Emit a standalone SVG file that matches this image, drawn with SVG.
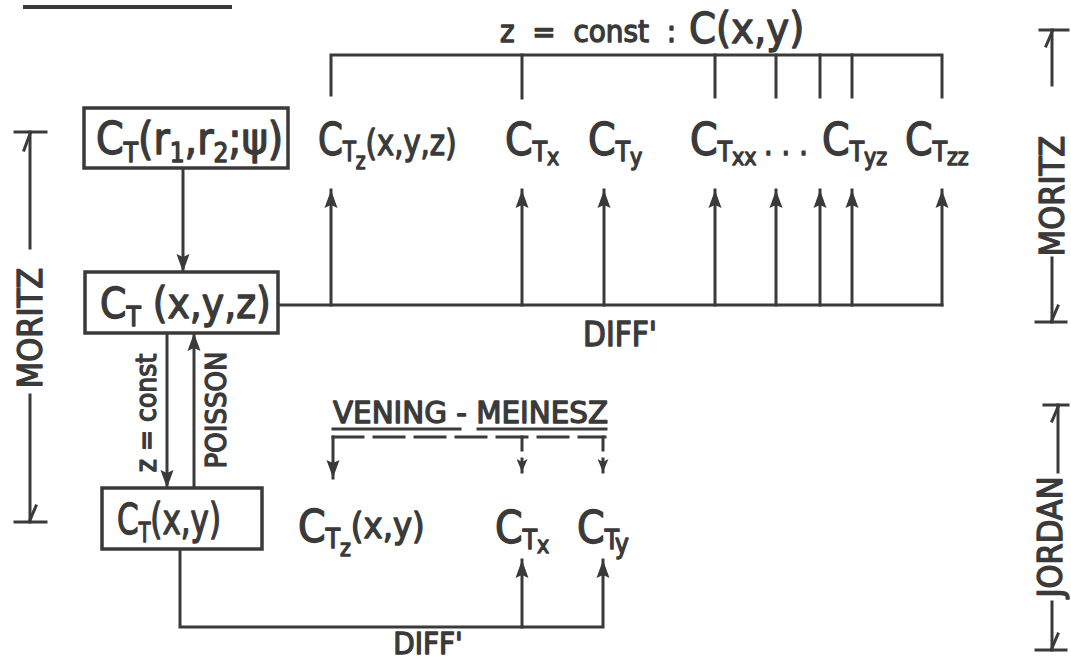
<svg xmlns="http://www.w3.org/2000/svg" width="1071" height="661" viewBox="0 0 1071 661">
<style>
.ln{stroke:#3a3a3a;stroke-width:3;fill:none;stroke-linecap:square}
.bx{stroke:#3a3a3a;stroke-width:3.5;fill:#fff}
.t{font-family:"DejaVu Sans Condensed","Liberation Sans Narrow","Liberation Sans",sans-serif;font-stretch:condensed;fill:#3a3a3a;stroke:#3a3a3a;stroke-width:1.3;stroke-linejoin:round}
.big{font-size:44px}
.mid{font-size:36px}
.sub{font-size:26px}
.ssub{font-size:23px}
.dash{stroke-dasharray:30 11}
</style>
<defs>
<marker id="ah" viewBox="0 0 18 14" refX="18" refY="7" markerWidth="18" markerHeight="14" markerUnits="userSpaceOnUse" orient="auto">
<path d="M0,0.5 L18,7 L0,13.5 L3,7 Z" fill="#3a3a3a"/>
</marker>
<marker id="as" viewBox="0 0 13 11" refX="13" refY="5.5" markerWidth="13" markerHeight="11" markerUnits="userSpaceOnUse" orient="auto">
<path d="M0,0 L13,5.5 L0,11 L3,5.5 Z" fill="#3a3a3a"/>
</marker>
</defs>
<rect width="1071" height="661" fill="#fff"/>
<line x1="23" y1="7" x2="232" y2="7" stroke="#3a3a3a" stroke-width="4"/>

<g id="connectors">
<line class="ln" x1="183" y1="168" x2="183" y2="272" marker-end="url(#ah)"/>
<line class="ln" x1="278" y1="305" x2="942" y2="305"/>
<line class="ln" x1="331" y1="305" x2="331" y2="190" marker-end="url(#ah)"/>
<line class="ln" x1="522" y1="305" x2="522" y2="190" marker-end="url(#ah)"/>
<line class="ln" x1="604" y1="305" x2="604" y2="190" marker-end="url(#ah)"/>
<line class="ln" x1="715" y1="305" x2="715" y2="190" marker-end="url(#ah)"/>
<line class="ln" x1="776" y1="305" x2="776" y2="190" marker-end="url(#ah)"/>
<line class="ln" x1="820" y1="305" x2="820" y2="190" marker-end="url(#ah)"/>
<line class="ln" x1="852" y1="305" x2="852" y2="190" marker-end="url(#ah)"/>
<line class="ln" x1="942" y1="305" x2="942" y2="190" marker-end="url(#ah)"/>
<path class="ln" d="M331,95 V55 H942 V97"/>
<path class="ln" d="M522,55 V98 M715,55 V97 M776,55 V97 M820,55 V97 M852,55 V97"/>
<line class="ln" x1="167" y1="333" x2="167" y2="488" marker-end="url(#ah)"/>
<line class="ln" x1="194" y1="488" x2="194" y2="333" marker-end="url(#ah)"/>
<path class="ln" d="M180,549 V627 H603 V560" marker-end="url(#ah)"/>
<line class="ln" x1="522" y1="627" x2="522" y2="560" marker-end="url(#ah)"/>
<path class="ln dash" d="M333,437 H605"/>
<line class="ln" x1="333" y1="437" x2="333" y2="478" marker-end="url(#ah)"/>
<line class="ln" x1="522" y1="437" x2="522" y2="450"/>
<line class="ln" x1="603" y1="437" x2="603" y2="450"/>
<line class="ln" x1="522" y1="459" x2="522" y2="472" marker-end="url(#as)"/>
<line class="ln" x1="603" y1="459" x2="603" y2="472" marker-end="url(#as)"/>
</g>

<g id="node-ct-r">
<rect class="bx" x="84" y="108" width="204" height="60"/>
<text class="t big" x="96" y="154">C<tspan class="sub" dy="8">T</tspan><tspan dy="-8">(r</tspan><tspan class="sub" dy="8">1</tspan><tspan dy="-8">,r</tspan><tspan class="sub" dy="8">2</tspan><tspan dy="-8">;ψ)</tspan></text>
</g>

<g id="node-ct-xyz">
<rect class="bx" x="85" y="272" width="193" height="61"/>
<text class="t" font-size="42" x="100" y="318">C<tspan class="sub" dy="8">T</tspan><tspan dy="-8"> (x,y,z)</tspan></text>
</g>

<g id="node-ct-xy">
<rect class="bx" x="102" y="488" width="160" height="61"/>
<text class="t" font-size="42" transform="translate(117,534) scale(0.82,1)">C<tspan class="sub" dy="8">T</tspan><tspan dy="-8">(x,y)</tspan></text>
</g>

<g id="row1">
<text class="t big" transform="translate(318,155) scale(0.9,1)">C<tspan class="sub" dy="6">T</tspan><tspan class="ssub" dy="8">z</tspan><tspan class="mid" dy="-14">(x,y,z)</tspan></text>
<text class="t big" x="505" y="155">C<tspan class="sub" dy="6">T</tspan><tspan class="ssub" dy="4">x</tspan></text>
<text class="t big" x="588" y="155">C<tspan class="sub" dy="6">T</tspan><tspan class="ssub" dy="4">y</tspan></text>
<text class="t big" x="690" y="155">C<tspan class="sub" dy="6">T</tspan><tspan class="ssub" dy="4">xx</tspan></text>
<text class="t" font-size="30" x="764" y="155" letter-spacing="9">...</text>
<text class="t big" x="822" y="155">C<tspan class="sub" dy="6">T</tspan><tspan class="ssub" dy="4">yz</tspan></text>
<text class="t big" x="905" y="155">C<tspan class="sub" dy="6">T</tspan><tspan class="ssub" dy="4">zz</tspan></text>
</g>

<g id="row3">
<text class="t big" x="298" y="542">C<tspan class="sub" dy="6">T</tspan><tspan class="ssub" dy="8">z</tspan><tspan class="mid" dy="-18">(x,y)</tspan></text>
<text class="t big" x="495" y="543">C<tspan class="sub" dy="6">T</tspan><tspan class="ssub" dy="4">x</tspan></text>
<text class="t big" x="577" y="543">C<tspan class="sub" dy="6">T</tspan><tspan class="sub" dy="4">y</tspan></text>
</g>

<g id="labels">
<text class="t" x="500" y="42" font-size="31" xml:space="preserve">z  =  const  :</text>
<text class="t" x="689" y="43" font-size="43">C(x,y)</text>
<text class="t" x="620" y="346" font-size="33" text-anchor="middle">DIFF'</text>
<text class="t" x="428" y="654" font-size="31" text-anchor="middle">DIFF'</text>
<text class="t" x="333" y="423" font-size="31" textLength="275" lengthAdjust="spacingAndGlyphs">VENING - MEINESZ</text>
<line class="ln" x1="333" y1="429" x2="460" y2="429"/>
<line class="ln" x1="478" y1="429" x2="606" y2="429"/>
<text class="t" transform="translate(156,413) rotate(-90)" font-size="28" text-anchor="middle">z = const</text>
<text class="t" transform="translate(226,410) rotate(-90)" font-size="29" text-anchor="middle">POISSON</text>
</g>

<g id="dim-left">
<line class="ln" x1="15" y1="132" x2="46" y2="132"/>
<line class="ln" x1="30" y1="132" x2="30" y2="248"/>
<line class="ln" x1="24" y1="150" x2="30" y2="134"/>
<text class="t" transform="translate(42,328) rotate(-90)" font-size="34" text-anchor="middle">MORITZ</text>
<line class="ln" x1="30" y1="395" x2="30" y2="522"/>
<line class="ln" x1="15" y1="522" x2="46" y2="522"/>
<line class="ln" x1="36" y1="506" x2="30" y2="520"/>
</g>

<g id="dim-right">
<line class="ln" x1="1040" y1="30" x2="1068" y2="30"/>
<line class="ln" x1="1052" y1="30" x2="1052" y2="85"/>
<line class="ln" x1="1046" y1="46" x2="1052" y2="32"/>
<text class="t" transform="translate(1064,196) rotate(-90)" font-size="34" text-anchor="middle">MORITZ</text>
<line class="ln" x1="1052" y1="258" x2="1052" y2="322"/>
<line class="ln" x1="1036" y1="322" x2="1066" y2="322"/>
<line class="ln" x1="1058" y1="306" x2="1052" y2="320"/>
<line class="ln" x1="1044" y1="405" x2="1068" y2="405"/>
<line class="ln" x1="1058" y1="405" x2="1058" y2="472"/>
<line class="ln" x1="1052" y1="421" x2="1058" y2="407"/>
<text class="t" transform="translate(1062,537) rotate(-90)" font-size="34" text-anchor="middle">JORDAN</text>
<line class="ln" x1="1052" y1="602" x2="1052" y2="650"/>
<line class="ln" x1="1036" y1="650" x2="1066" y2="650"/>
<line class="ln" x1="1058" y1="634" x2="1052" y2="648"/>
</g>
</svg>
